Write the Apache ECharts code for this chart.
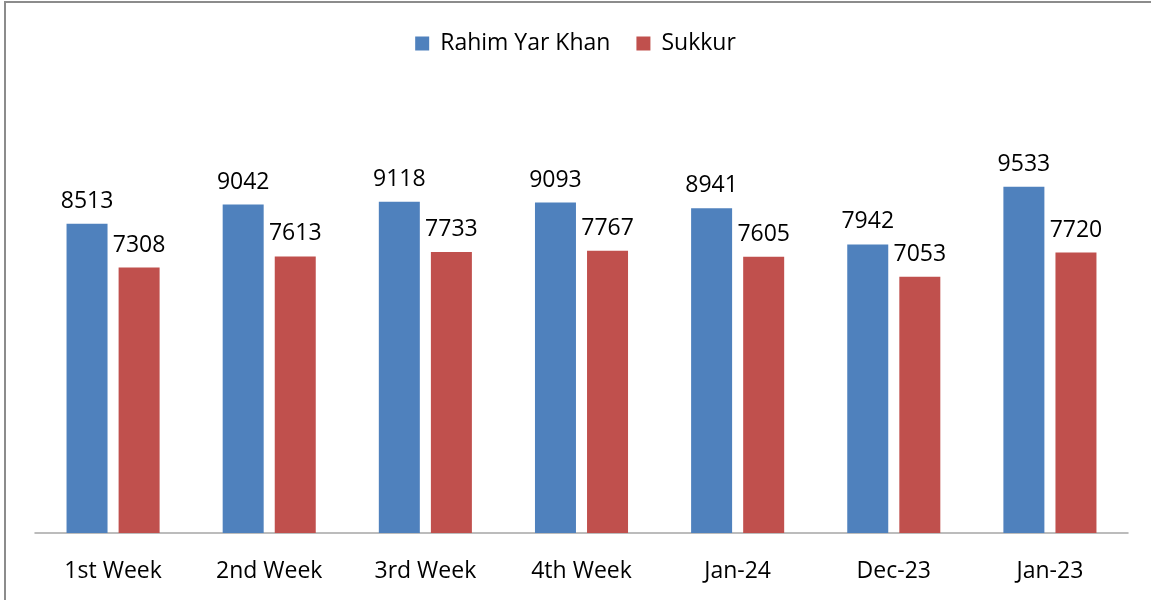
<!DOCTYPE html>
<html><head><meta charset="utf-8">
<script src="https://cdn.jsdelivr.net/npm/echarts@6/dist/echarts.min.js"></script>
<style>html,body{margin:0;padding:0;background:#fff;}#c{width:1151px;height:600px;}</style>
</head><body><div id="c"></div>
<script>
const categories = ['1st Week','2nd Week','3rd Week','4th Week','Jan-24','Dec-23','Jan-23'];
const rahimYarKhan = [8513, 9042, 9118, 9093, 8941, 7942, 9533];
const sukkur = [7308, 7613, 7733, 7767, 7605, 7053, 7720];
const seriesNames = ['Rahim Yar Khan', 'Sukkur'];

const font = '"Open Sans", sans-serif';
const chart = echarts.init(document.getElementById('c'));
const lbl = {show:true, position:'top', distance:11, color:'#000', fontSize:23, fontFamily:font};
chart.setOption({
  animation:false,
  graphic:[{type:'rect', shape:{x:5, y:2, width:1170, height:640}, style:{fill:'none', stroke:'#8c8c8c', lineWidth:2}}],
  legend:{top:27, left:'center', itemWidth:14, itemHeight:14, itemGap:26, icon:'rect',
    textStyle:{fontSize:23, fontFamily:font, color:'#000', padding:[0,0,0,6]}, data:seriesNames},
  grid:{left:35, right:23, top:97, bottom:67},
  xAxis:{type:'category', data:categories,
    axisLine:{lineStyle:{color:'#a6a6a6', width:1.5}}, axisTick:{show:false},
    axisLabel:{color:'#000', fontSize:23, fontFamily:font, margin:27}},
  yAxis:{type:'value', min:0, max:12000, show:false, splitLine:{show:false}},
  series:[
    {name:seriesNames[0], type:'bar', data:rahimYarKhan, barWidth:41, barGap:'27%', itemStyle:{color:'#4F81BD'}, label:lbl},
    {name:seriesNames[1], type:'bar', data:sukkur, barWidth:41, itemStyle:{color:'#C0504D'}, label:lbl}
  ]
});
</script></body></html>
